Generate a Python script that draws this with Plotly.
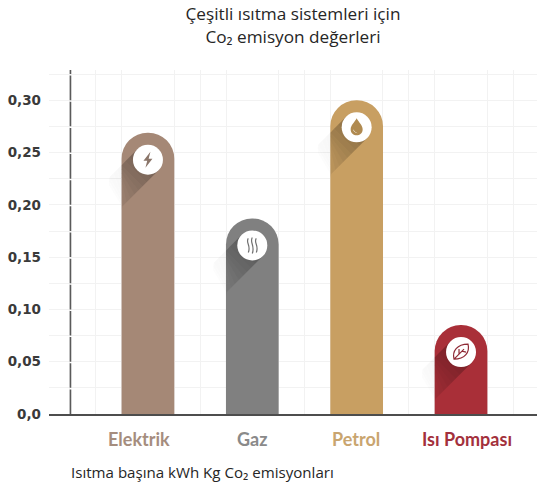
import re
import plotly.graph_objects as go

categories = ['Elektrik', 'Gaz', 'Petrol', 'Isı Pompası']
values = [0.269, 0.187, 0.300, 0.085]
bar_colors = ['#a58876', '#808080', '#c89f62', '#a92f38']
label_colors = ['#a58d7e', '#8a8a8a', '#c9a56f', '#a3303c']
icon_colors = ['#8a7569', '#707070', '#b08a50', '#8f2a35']
label_shift = [-0.086, 0, -0.01, 0.057]  # labels are not quite under their bars
y_ticks = [0, 0.05, 0.10, 0.15, 0.20, 0.25, 0.30]
y_tick_labels = ['0,0', '0,05', '0,10', '0,15', '0,20', '0,25', '0,30']

BADGE_DROP = 27  # badge centre below bar top, px
BADGE_R = 15

# icons around the badge centre, in pixels (y goes up)
icons = [
    'M2.5,8 L-4.5,-1 L-0.7,-1 L-2.5,-8 L4.5,1 L0.7,1 Z',
    'M-4,7 C-7,3 -1,0 -4,-7 M0,8 C-3,3 3,0 0,-8 M4,7 C1,3 7,0 4,-7',
    'M0,9 C2,5 6,2 6,-2 C6,-10 -6,-10 -6,-2 C-6,2 -2,5 0,9 Z M-3.5,-2 C-3.5,-4 -1.5,-5.5 1,-6 C-1,-5 -2.5,-4 -3.5,-2 Z',
    'M-7,-7 C-9,1 -4,8 7,8 C9,0 4,-7 -7,-7 Z M-7,-7 L3,3 M-2,-2 L-2,3 M1,1 L5,0',
]
icon_filled = [True, False, True, False]


def lower(path):
    # move icon path from badge centre coords to bar top coords
    return re.sub(r'(-?[\d.]+),(-?[\d.]+)',
                  lambda m: f'{m.group(1)},{float(m.group(2)) - BADGE_DROP:.1f}', path)


def band_slice(i, t0, t1, x_min, x_max, color, opacity):
    # piece of the long 45 degree shadow behind a badge, cut at x_min / x_max
    k = 0.707 * BADGE_R
    pts = [(-k - t0, k - t0), (k - t0, -k - t0), (k - t1, -k - t1), (-k - t1, k - t1)]
    xs = [min(max(p[0], x_min), x_max) for p in pts]
    ys = [p[1] - BADGE_DROP for p in pts]
    path = 'M' + ' L'.join(f'{x:.1f},{y:.1f}' for x, y in zip(xs, ys)) + ' Z'
    return dict(type='path', path=path, xsizemode='pixel', ysizemode='pixel',
                xanchor=i, yanchor=values[i], fillcolor=color, opacity=opacity,
                line=dict(width=0), layer='above')


fig = go.Figure()
fig.add_trace(go.Bar(
    x=list(range(len(categories))),
    y=values,
    width=0.505,
    marker=dict(color=bar_colors, cornerradius=26, line=dict(width=0)),
    hoverinfo='skip',
))

shapes = []
for i in range(len(categories)):
    # shadow: darker on the bar, faint grey on the paper next to it
    steps = 11
    for s in range(steps):
        t0 = 4 * s
        t1 = 4 * (s + 1)
        fade = 1 - s / steps
        shapes.append(band_slice(i, t0, t1, -26.3, 26.3, '#000000', 0.28 * fade))
        if 1 < s < 9:
            shapes.append(band_slice(i, t0, t1, -39, -26.3, '#000000', 0.05 * fade))
    shapes.append(dict(type='circle', xsizemode='pixel', ysizemode='pixel',
                       xanchor=i, yanchor=values[i],
                       x0=-BADGE_R, x1=BADGE_R, y0=-BADGE_DROP - BADGE_R, y1=-BADGE_DROP + BADGE_R,
                       fillcolor='white', line=dict(width=0), layer='above'))
    shapes.append(dict(type='path', xsizemode='pixel', ysizemode='pixel',
                       xanchor=i, yanchor=values[i], path=lower(icons[i]), layer='above',
                       fillcolor=icon_colors[i] if icon_filled[i] else 'rgba(0,0,0,0)',
                       line=dict(width=0 if icon_filled[i] else 1.2, color=icon_colors[i])))

# y axis sits inside the plot area, broken by the grid lines
shapes.append(dict(type='line', xref='paper', yref='y', x0=0.044, x1=0.044, y0=0, y1=0.329,
                   line=dict(color='#5a5a5a', width=1.6, dash='24.6px,1.55px'), layer='above'))

annotations = [dict(text='Isıtma başına kWh Kg Co₂ emisyonları',
                    xref='paper', yref='paper', x=0.041, y=-0.169, xanchor='left', yanchor='middle',
                    showarrow=False, font=dict(family='Open Sans', size=15.1, color='#262626'))]
for i, name in enumerate(categories):
    annotations.append(dict(text=name, x=i + label_shift[i], xref='x', yref='paper', y=-0.073,
                            xanchor='center', yanchor='middle', showarrow=False,
                            font=dict(family='Lato', size=18, color=label_colors[i], weight=700)))

fig.update_layout(
    width=544, height=492,
    margin=dict(l=49, r=7, t=70, b=77.5),
    paper_bgcolor='white', plot_bgcolor='white',
    showlegend=False,
    shapes=shapes,
    annotations=annotations,
    title=dict(text='Çeşitli ısıtma sistemleri için<br>Co₂ emisyon değerleri',
               x=0.5386, xanchor='center', y=0.959, yanchor='top',
               font=dict(family='Open Sans', size=17.2, color='#262626')),
)
fig.update_xaxes(
    automargin=False,
    range=[-0.948, 3.728],
    showticklabels=False, ticks='',
    showline=True, linecolor='#4d4d4d', linewidth=2,
    showgrid=False,
    tick0=0, dtick=1,
    minor=dict(tick0=0, dtick=0.25, showgrid=True, gridcolor='#f2f2f2', gridwidth=1),
    zeroline=False,
)
fig.update_yaxes(
    automargin=False,
    range=[0, 0.329],
    tickvals=y_ticks, ticktext=y_tick_labels,
    tickfont=dict(family='DejaVu Sans', size=13.5, color='#3a3a3a', weight=700),
    ticks='', showline=False, ticklabelstandoff=7,
    showgrid=True, gridcolor='#f2f2f2', gridwidth=1,
    minor=dict(dtick=0.025, showgrid=True, gridcolor='#f2f2f2', gridwidth=1),
    zeroline=False,
)

# drop the default body margin so the figure fills the window exactly
fig.write_html("out.html", config=dict(displayModeBar=False),
               post_script="document.body.style.margin='0';")
